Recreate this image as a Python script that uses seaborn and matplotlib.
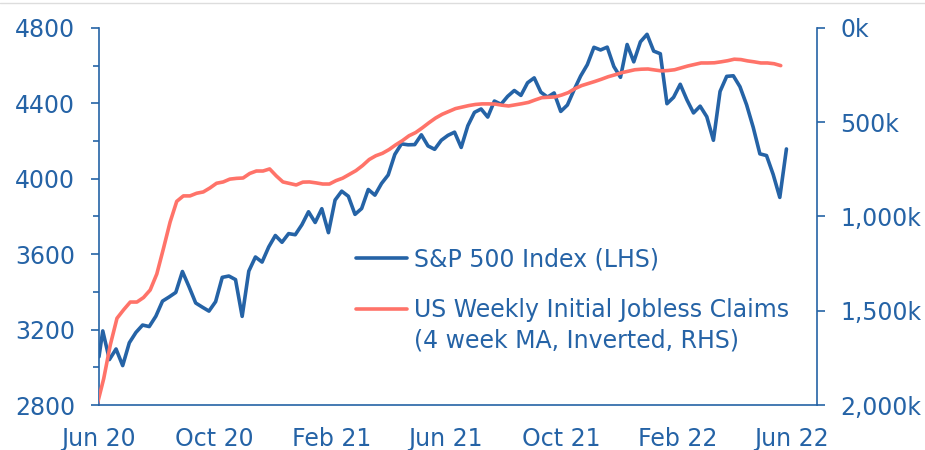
import matplotlib
matplotlib.use("Agg")
import matplotlib.pyplot as plt
import matplotlib.dates as mdates
from matplotlib.lines import Line2D
from matplotlib.ticker import FuncFormatter, MultipleLocator
import numpy as np
import pandas as pd
import seaborn as sns

# ── Data ─────────────────────────────────────────────────────────────────────
# S&P 500 weekly close (first point 1 Jun 2020, then Friday closes)
spx_start = "2020-06-01"
spx_values = [
    3056, 3193, 3041, 3097, 3009, 3130, 3185, 3224, 3216, 3271, 3351, 3373,
    3397, 3508, 3427, 3341, 3319, 3298, 3348, 3477, 3484, 3465, 3270, 3510,
    3585, 3558, 3638, 3699, 3663, 3709, 3703, 3756, 3825, 3768, 3841, 3714,
    3887, 3934, 3907, 3811, 3842, 3943, 3913, 3975, 4020, 4129, 4185, 4180,
    4181, 4233, 4174, 4156, 4204, 4230, 4247, 4166, 4281, 4352, 4370, 4327,
    4412, 4395, 4437, 4468, 4442, 4509, 4535, 4459, 4433, 4455, 4357, 4391,
    4471, 4545, 4605, 4697, 4683, 4698, 4595, 4538, 4712, 4620, 4726, 4766,
    4677, 4663, 4398, 4432, 4501, 4419, 4349, 4385, 4329, 4204, 4463, 4543,
    4546, 4488, 4392, 4272, 4132, 4123, 4023, 3901, 4158,
]

# US initial jobless claims, 4-week moving average, thousands (weeks ending Sat)
claims_start = "2020-05-30"
claims_values = [
    2000, 1860, 1680, 1540, 1495, 1454, 1454, 1430, 1390, 1305, 1170, 1030,
    920, 891, 891, 877, 870, 849, 824, 817, 802, 798, 796, 772,
    759, 759, 748, 785, 817, 825, 833, 818, 817, 822, 828, 828,
    810, 797, 777, 757, 730, 698, 678, 665, 645, 620, 598, 572,
    555, 530, 503, 478, 458, 443, 428, 420, 412, 406, 403, 403,
    404, 410, 414, 408, 402, 395, 382, 370, 368, 366, 356, 343,
    322, 306, 295, 284, 272, 259, 249, 238, 230, 222, 219, 218,
    223, 228, 226, 222, 212, 202, 194, 186, 186, 185, 180, 174,
    166, 168, 175, 180, 186, 186, 190, 200,
]

spx_label = "S&P 500 Index (LHS)"
claims_label = "US Weekly Initial Jobless Claims"
claims_label_2 = "(4 week MA, Inverted, RHS)"

spx_dates = [pd.Timestamp(spx_start)] + list(
    pd.date_range("2020-06-05", periods=len(spx_values) - 1, freq="W-FRI")
)
claims_dates = pd.date_range(claims_start, periods=len(claims_values), freq="W-SAT")

spx = pd.DataFrame({"date": spx_dates, "value": spx_values})
claims = pd.DataFrame({"date": claims_dates, "value": claims_values})

# ── Aesthetics ───────────────────────────────────────────────────────────────
BLUE = "#2563A6"
RED = "#FF7369"
sns.set_theme(style="white")
plt.rcParams["font.family"] = ["DejaVu Sans"]
FS = 17

fig = plt.figure(figsize=(9.25, 4.5), dpi=100)
ax = fig.add_axes([0.107, 0.1, 0.776, 0.838])
ax2 = ax.twinx()

sns.lineplot(data=spx, x="date", y="value", ax=ax, color=BLUE, linewidth=2.6,
             legend=False)
sns.lineplot(data=claims, x="date", y="value", ax=ax2, color=RED, linewidth=2.6,
             legend=False)

ax.set_xlim(pd.Timestamp("2020-06-01"), pd.Timestamp("2022-06-28"))
ax.set_ylim(2800, 4800)
ax2.set_ylim(2000, 0)

ax.yaxis.set_major_locator(MultipleLocator(400))
ax.yaxis.set_minor_locator(MultipleLocator(200))
ax2.yaxis.set_major_locator(MultipleLocator(500))
ax2.yaxis.set_major_formatter(FuncFormatter(lambda v, _: f"{v:,.0f}k"))
ax.xaxis.set_major_locator(mdates.MonthLocator(bymonth=[2, 6, 10]))
ax.xaxis.set_major_formatter(mdates.DateFormatter("%b %y"))

for a in (ax, ax2):
    a.set_xlabel("")
    a.set_ylabel("")
    for side in a.spines:
        a.spines[side].set_visible(False)
    a.tick_params(colors=BLUE, labelcolor=BLUE, labelsize=FS, width=1.2,
                  length=6, direction="out", pad=10)

ax.spines["left"].set_visible(True)
ax.spines["bottom"].set_visible(True)
ax2.spines["right"].set_visible(True)
for sp in (ax.spines["left"], ax.spines["bottom"], ax2.spines["right"]):
    sp.set_color(BLUE)
    sp.set_linewidth(1.2)
ax.tick_params(axis="y", which="minor", left=True, length=4, width=1.2, color=BLUE)
ax.tick_params(axis="y", pad=11)
ax2.tick_params(axis="y", pad=11)

# legend: handle sits next to the first line of the two-line jobless label
handles = [Line2D([], [], color=BLUE, lw=2.6), Line2D([], [], color=RED, lw=2.6)]
leg = ax2.legend(handles, [spx_label, claims_label], loc="upper left",
                 bbox_to_anchor=(0.3853, 0.450), bbox_transform=fig.transFigure,
                 frameon=False, fontsize=FS, labelcolor=BLUE, handlelength=2.15,
                 handletextpad=0.3, labelspacing=1.12, borderpad=0, borderaxespad=0)
ax2.annotate(claims_label_2, xy=(0, 0), xycoords=leg.get_texts()[1],
             xytext=(0, -4.5), textcoords="offset points", va="top", ha="left",
             fontsize=FS, color=BLUE, zorder=10)

fig.add_artist(Line2D([0, 1], [0.993, 0.993], color="#dddddd", lw=1,
                      transform=fig.transFigure))

fig.savefig("out.png", dpi=100)
